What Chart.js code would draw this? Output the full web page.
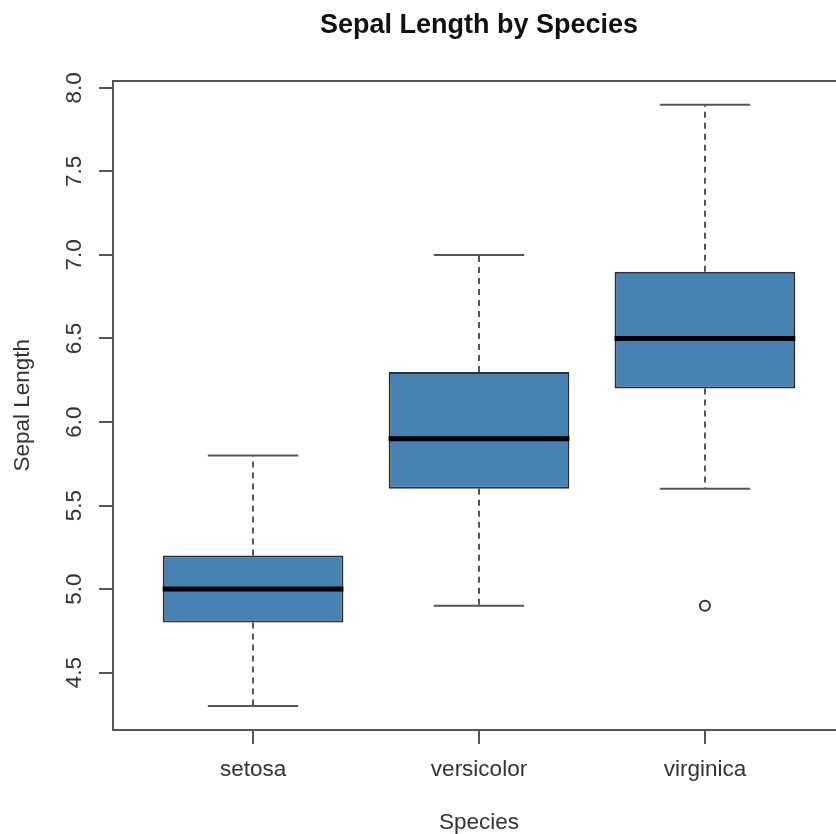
<!DOCTYPE html>
<html>
<head>
<meta charset="utf-8">
<title>Sepal Length by Species</title>
<script src="https://cdn.jsdelivr.net/npm/chart.js@4.4.1/dist/chart.umd.min.js"></script>
<style>
  html, body { margin: 0; padding: 0; background: #fff; overflow: hidden; }
  #wrap { width: 852px; height: 834px; }
</style>
</head>
<body>
<div id="wrap"><canvas id="boxChart" width="852" height="834"></canvas></div>
<script>
// iris sepal length, five number summary per species
var species = ["setosa", "versicolor", "virginica"];
var lowerWhisker = [4.3, 4.9, 5.6];
var q1 = [4.8, 5.6, 6.2];
var median = [5.0, 5.9, 6.5];
var q3 = [5.2, 6.3, 6.9];
var upperWhisker = [5.8, 7.0, 7.9];
var outlierGroup = [3];     // position on the x axis (1 = setosa)
var outlierValue = [4.9];
var yTicks = [4.5, 5.0, 5.5, 6.0, 6.5, 7.0, 7.5, 8.0];

var boxFill = "#4682B4";
var boxBorder = "#2e2e2e";
var lineGrey = "#555555";
var textGrey = "#333333";

// same range rule as R: data range stretched by 4% on each side
var allValues = lowerWhisker.concat(upperWhisker, outlierValue);
var lo = Math.min.apply(null, allValues);
var hi = Math.max.apply(null, allValues);
var yMin = lo - (hi - lo) * 0.04;
var yMax = hi + (hi - lo) * 0.04;
var xMin = 0.5 - species.length * 0.04;
var xMax = species.length + 0.5 + species.length * 0.04;

Chart.defaults.font.family = '"Liberation Sans", Arial, sans-serif';
Chart.defaults.color = textGrey;

var boxData = species.map(function(s, i) {
    return { x: i + 1, y: [q1[i], q3[i]] };
});
var outlierData = outlierGroup.map(function(g, i) {
    return { x: g, y: outlierValue[i] };
});

var boxPartsPlugin = {
    id: "boxParts",
    beforeDatasetsDraw: function(chart) {
        var ctx = chart.ctx;
        var yScale = chart.scales.y;
        var bars = chart.getDatasetMeta(0).data;
        ctx.save();
        ctx.strokeStyle = lineGrey;
        ctx.lineWidth = 2;
        bars.forEach(function(bar, i) {
            var cx = Math.round(bar.x);
            var capHalf = bar.width / 4;
            var yLo = yScale.getPixelForValue(lowerWhisker[i]);
            var yHi = yScale.getPixelForValue(upperWhisker[i]);
            // dashed whiskers
            ctx.setLineDash([6, 5]);
            ctx.beginPath();
            ctx.moveTo(cx, yScale.getPixelForValue(q3[i]));
            ctx.lineTo(cx, yHi);
            ctx.moveTo(cx, yScale.getPixelForValue(q1[i]));
            ctx.lineTo(cx, yLo);
            ctx.stroke();
            // staples
            ctx.setLineDash([]);
            ctx.beginPath();
            ctx.moveTo(cx - capHalf, yHi);
            ctx.lineTo(cx + capHalf, yHi);
            ctx.moveTo(cx - capHalf, yLo);
            ctx.lineTo(cx + capHalf, yLo);
            ctx.stroke();
        });
        ctx.restore();
    },
    afterDatasetsDraw: function(chart) {
        var ctx = chart.ctx;
        var yScale = chart.scales.y;
        var bars = chart.getDatasetMeta(0).data;
        var area = chart.chartArea;
        ctx.save();
        ctx.strokeStyle = "#000";
        ctx.lineWidth = 5;
        bars.forEach(function(bar, i) {
            var ym = yScale.getPixelForValue(median[i]);
            ctx.beginPath();
            ctx.moveTo(bar.x - bar.width / 2, ym);
            ctx.lineTo(bar.x + bar.width / 2, ym);
            ctx.stroke();
        });
        // frame round the plot region
        ctx.strokeStyle = lineGrey;
        ctx.lineWidth = 2;
        ctx.strokeRect(Math.round(area.left), Math.round(area.top),
            Math.round(area.right - area.left), Math.round(area.bottom - area.top));
        ctx.restore();
    }
};

var ctxBox = document.getElementById("boxChart");

var boxChart = new Chart(ctxBox, {
    type: "bar",
    data: {
        datasets: [
            {
                label: "Sepal Length",
                data: boxData,
                backgroundColor: boxFill,
                borderColor: boxBorder,
                borderWidth: 2,
                borderSkipped: false,
                categoryPercentage: 1,
                barPercentage: 0.8
            },
            {
                type: "scatter",
                label: "outliers",
                data: outlierData,
                pointStyle: "circle",
                pointRadius: 5,
                pointBorderWidth: 2,
                pointBorderColor: textGrey,
                pointBackgroundColor: "rgba(0,0,0,0)"
            }
        ]
    },
    options: {
        responsive: false,
        animation: false,
        layout: { padding: { left: 0, right: 7, top: 0, bottom: 0 } },
        plugins: {
            legend: { display: false },
            tooltip: { enabled: false },
            title: {
                display: true,
                text: "Sepal Length by Species",
                fullSize: false,
                color: "#111",
                font: { size: 27, weight: "bold", lineHeight: 1.2 },
                padding: { top: 9, bottom: 39.2 }
            }
        },
        scales: {
            x: {
                type: "linear",
                min: xMin,
                max: xMax,
                offset: false,
                grid: {
                    offset: false,
                    drawOnChartArea: false,
                    drawTicks: true,
                    tickLength: 14,
                    color: lineGrey,
                    lineWidth: 2
                },
                border: { display: false },
                ticks: {
                    autoSkip: false,
                    maxRotation: 0,
                    padding: 12.5,
                    color: textGrey,
                    font: { size: 22.5, lineHeight: 1.2 },
                    callback: function(value) {
                        return species[value - 1];
                    }
                },
                afterBuildTicks: function(scale) {
                    scale.ticks = species.map(function(s, i) {
                        return { value: i + 1 };
                    });
                },
                afterFit: function(scale) {
                    scale.height = 104;
                },
                title: {
                    display: true,
                    text: "Species",
                    color: textGrey,
                    font: { size: 22.5, lineHeight: 1 },
                    padding: { top: 0, bottom: 0 }
                }
            },
            y: {
                type: "linear",
                min: yMin,
                max: yMax,
                beginAtZero: false,
                grid: {
                    drawOnChartArea: false,
                    drawTicks: true,
                    tickLength: 14,
                    color: lineGrey,
                    lineWidth: 2
                },
                border: { display: false },
                ticks: {
                    minRotation: 90,
                    maxRotation: 90,
                    crossAlign: "center",
                    padding: 9,
                    color: textGrey,
                    font: { size: 22.5, lineHeight: 1.2 },
                    callback: function(value) {
                        return value.toFixed(1);
                    }
                },
                afterBuildTicks: function(scale) {
                    scale.ticks = yTicks.map(function(v) {
                        return { value: v };
                    });
                },
                afterFit: function(scale) {
                    scale.width = 113;
                },
                title: {
                    display: true,
                    text: "Sepal Length",
                    color: textGrey,
                    font: { size: 22.5, lineHeight: 1 },
                    padding: { top: 12, bottom: 0 }
                }
            }
        }
    },
    plugins: [boxPartsPlugin]
});
</script>
</body>
</html>
